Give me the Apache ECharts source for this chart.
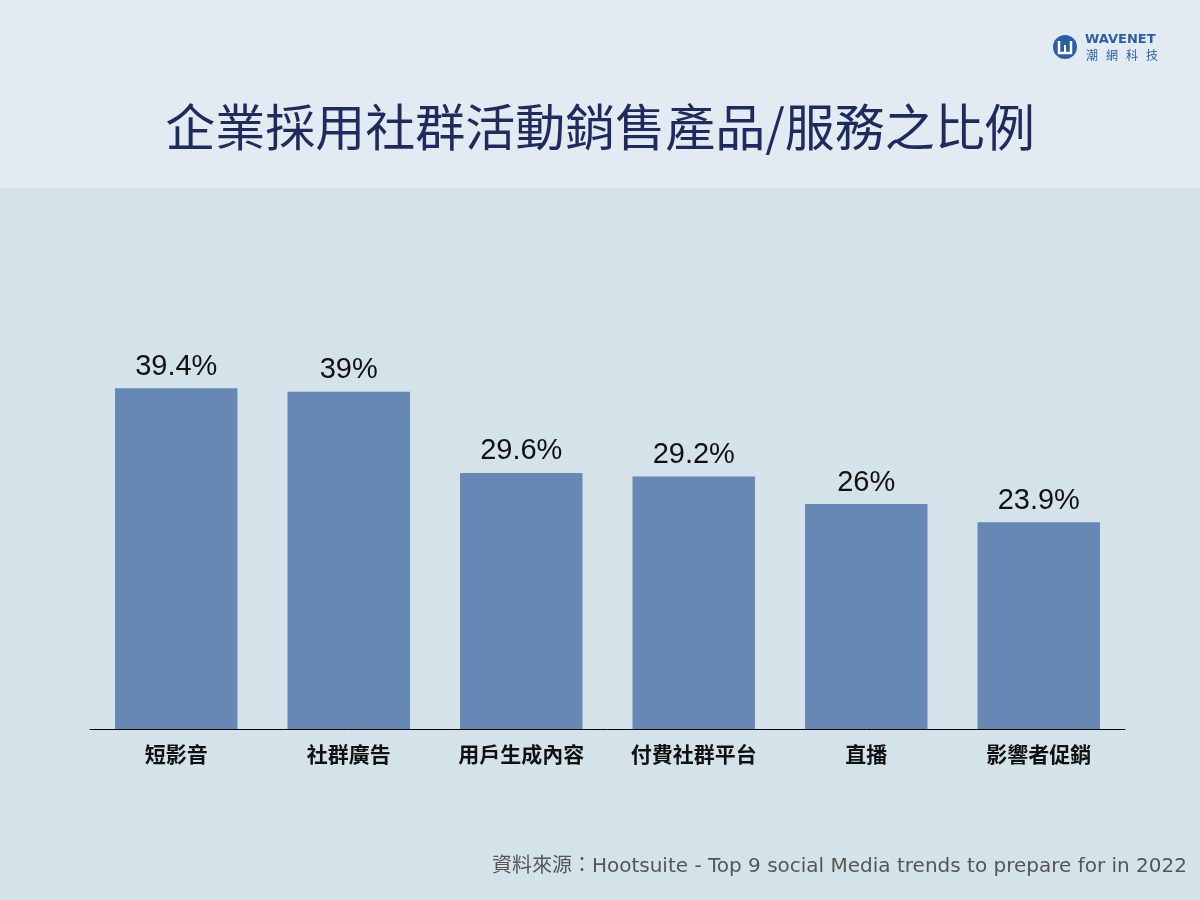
<!DOCTYPE html>
<html><head><meta charset="utf-8">
<script src="https://cdn.jsdelivr.net/npm/echarts@6/dist/echarts.min.js"></script>
<style>html,body{margin:0;padding:0;background:#d4e3ea;}#c{width:1200px;height:900px;}</style>
</head><body><div id="c"></div>
<script>
const categories = ['短影音','社群廣告','用戶生成內容','付費社群平台','直播','影響者促銷'];
const values = [39.4, 39, 29.6, 29.2, 26, 23.9];
const titleText = '企業採用社群活動銷售產品/服務之比例';
const sourceText = '資料來源：Hootsuite - Top 9 social Media trends to prepare for in 2022';
const logoChars = ['潮','網','科','技'];

const chart = echarts.init(document.getElementById('c'));
const logoCharGraphics = logoChars.map((ch, i) => ({
  type: 'text', left: 1086 + i * 20, top: 49,
  style: {text: ch, fill: '#2a5ea8', fontSize: 12, fontFamily: '"Noto Sans CJK TC", sans-serif'}
}));
chart.setOption({
  backgroundColor: '#d4e3ea',
  animation: false,
  grid: {left: 90, right: 75, top: 383, bottom: 171},
  xAxis: {
    type: 'category', data: categories,
    axisLine: {lineStyle: {color: '#000', width: 1}},
    axisTick: {show: false},
    axisLabel: {color: '#111', fontSize: 21, fontWeight: 'bold', margin: 15,
      fontFamily: '"Noto Sans CJK TC", sans-serif'}
  },
  yAxis: {type: 'value', min: 0, max: 40, show: false, splitLine: {show: false}},
  series: [{
    type: 'bar', data: values, barWidth: '71%',
    itemStyle: {color: '#6787b5'},
    label: {show: true, position: 'top', distance: 7, color: '#111', fontSize: 29,
      fontFamily: 'Liberation Sans, Arial, sans-serif',
      formatter: p => p.value + '%'}
  }],
  graphic: [
    {type: 'rect', left: 0, top: 0, shape: {width: 1200, height: 188}, style: {fill: '#e3ebf2'}, z: -1},
    {type: 'text', left: 'center', top: 102, style: {text: titleText, fill: '#1f2a5e', fontSize: 50,
      fontFamily: '"Noto Sans CJK TC", sans-serif', fontWeight: 'normal'}},
    {type: 'text', right: 13, top: 857, style: {text: sourceText, fill: '#555', fontSize: 20,
      fontFamily: '"DejaVu Sans", "Noto Sans CJK TC", sans-serif'}},
    {type: 'circle', shape: {cx: 1065, cy: 47, r: 12}, style: {fill: '#2a5ea8'}},
    {type: 'polyline', shape: {points: [[1059, 41], [1059, 53], [1071, 53], [1071, 41]]},
      style: {stroke: '#fff', lineWidth: 2.5, fill: null}},
    {type: 'line', shape: {x1: 1065, y1: 45, x2: 1065, y2: 53}, style: {stroke: '#fff', lineWidth: 2}},
    {type: 'text', left: 1085, top: 33, style: {text: 'WAVENET', fill: '#2a5ea8', fontSize: 13, fontWeight: 'bold',
      fontFamily: '"DejaVu Sans", sans-serif'}}
  ].concat(logoCharGraphics)
});
</script></body></html>
